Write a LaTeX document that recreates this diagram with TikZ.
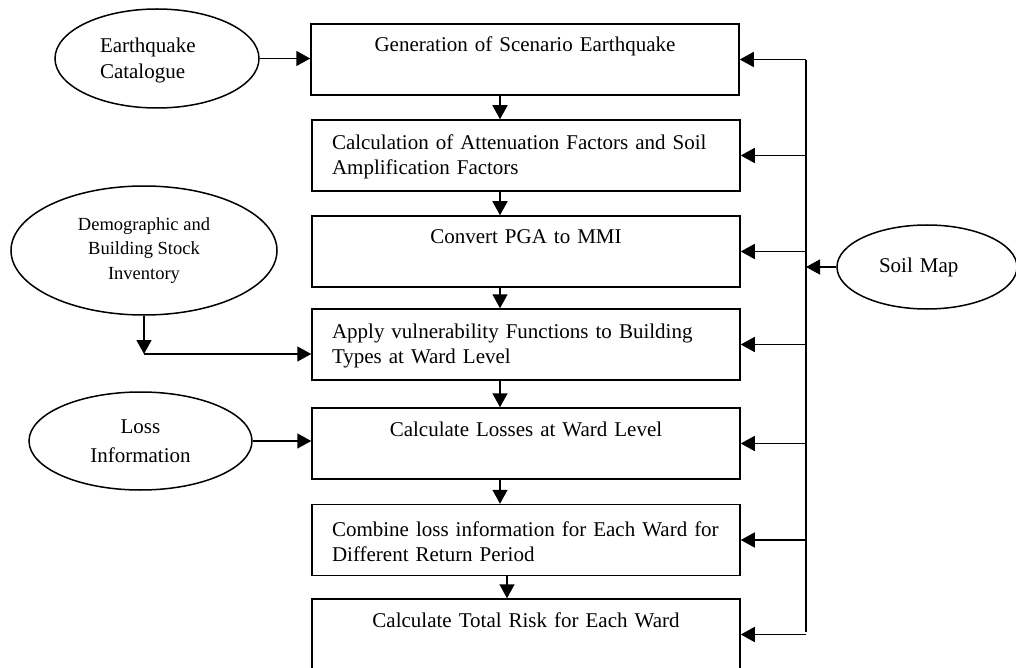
\documentclass[tikz,border=0pt]{standalone}
\usepackage{fontspec}
\setmainfont{Liberation Serif}
\usetikzlibrary{arrows.meta,shapes.geometric}
\pgfdeclarelayer{edgelayer}
\pgfdeclarelayer{nodelayer}
\pgfsetlayers{edgelayer,nodelayer,main}
\tikzstyle{process}=[rectangle, draw=black, line width=1.500, minimum width=428, minimum height=71, text width=388, inner xsep=20, inner ysep=0, font=\fontsize{21}{25}\selectfont, execute at begin node=\strut]
\tikzstyle{source}=[ellipse, draw=black, line width=1.500, inner sep=0, font=\fontsize{21}{26}\selectfont]
\tikzstyle{arrow}=[-{Triangle[length=14pt,width=15pt]}, draw=black, line width=1.500]
\tikzstyle{bus}=[-, draw=black, line width=1.500]

\begin{document}
\begin{tikzpicture}[x=1pt, y=-1pt]
            \useasboundingbox (0, 0) rectangle (1016, 668);
            \begin{pgfonlayer}{nodelayer}
                \node [style=process, align=center] (generate) at (525, 59.5) {Generation of Scenario Earthquake\\ \strut};
                \node [style=process, align=left] (atten) at (526, 155.5) {Calculation of Attenuation Factors and Soil\\Amplification Factors};
                \node [style=process, align=center] (convert) at (526, 251.5) {Convert PGA to MMI\\ \strut};
                \node [style=process, align=left] (apply) at (526, 344.5) {Apply vulnerability Functions to Building\\Types at Ward Level};
                \node [style=process, align=center] (losses) at (526, 443.5) {Calculate Losses at Ward Level\\ \strut};
                \node [style=process, align=left] (combine) at (526, 540) {Combine loss information for Each Ward for\\Different Return Period};
                \node [style=process, align=center] (risk) at (526, 634.5) {Calculate Total Risk for Each Ward\\ \strut};

                \node [style=source, minimum width=204, minimum height=99, text width=114, align=left, execute at begin node=\strut] (catalogue) at (157, 58.5) {Earthquake\\Catalogue};
                \node [style=source, minimum width=266, minimum height=129, align=center, font=\fontsize{18.5}{24.5}\selectfont] (inventory) at (144, 250.5) {Demographic and\\Building Stock\\Inventory};
                \node [style=source, minimum width=223, minimum height=98, align=center, font=\fontsize{21}{28.5}\selectfont] (lossinfo) at (140.5, 441) {Loss\\Information};
                \node [style=source, minimum width=180, minimum height=84, text width=96, align=left] (soilmap) at (927, 267) {Soil Map};

                \coordinate (bustop) at (806, 60);
                \coordinate (busbottom) at (806, 632);
                \coordinate (inventoryjoin) at (144, 354);
            \end{pgfonlayer}
            \begin{pgfonlayer}{edgelayer}
                \draw [style=arrow] (catalogue.east) -- (catalogue.east -| generate.west);
                \draw [style=arrow] (inventory.south) -- (inventoryjoin);
                \draw [style=arrow] (inventoryjoin) -- (inventoryjoin -| apply.west);
                \draw [style=arrow] (lossinfo.east) -- (lossinfo.east -| losses.west);

                \draw [style=arrow] ([xshift=-26]atten.north |- generate.south) -- ([xshift=-26]atten.north);
                \draw [style=arrow] ([xshift=-26]atten.south) -- ([xshift=-26]convert.north);
                \draw [style=arrow] ([xshift=-26]convert.south) -- ([xshift=-26]apply.north);
                \draw [style=arrow] ([xshift=-26]apply.south) -- ([xshift=-26]losses.north);
                \draw [style=arrow] ([xshift=-26]losses.south) -- ([xshift=-26]combine.north);
                \draw [style=arrow] ([xshift=-19]combine.south) -- ([xshift=-19]risk.north);

                \draw [style=bus] (bustop) -- (busbottom);
                \draw [style=arrow] (soilmap.west) -- (soilmap.west -| bustop);
                \draw [style=arrow] (generate.east -| bustop) -- (generate.east);
                \draw [style=arrow] (atten.east -| bustop) -- (atten.east);
                \draw [style=arrow] (convert.east -| bustop) -- (convert.east);
                \draw [style=arrow] (apply.east -| bustop) -- (apply.east);
                \draw [style=arrow] (losses.east -| bustop) -- (losses.east);
                \draw [style=arrow] (combine.east -| bustop) -- (combine.east);
                \draw [style=arrow] (risk.east -| bustop) -- (risk.east);
            \end{pgfonlayer}
        \end{tikzpicture}
\end{document}
